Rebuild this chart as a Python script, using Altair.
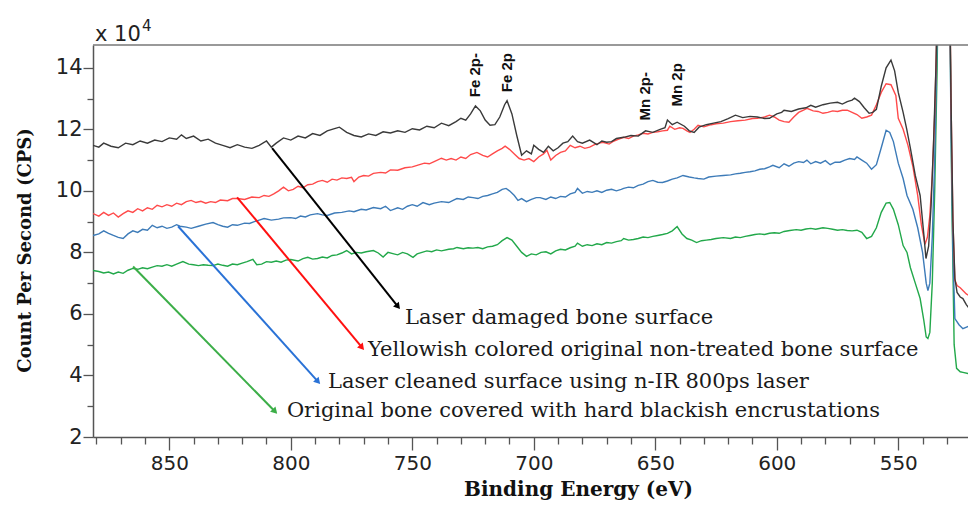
import altair as alt
import pandas as pd

# ---- spectra: (binding energy eV, counts per second / 1e4) ----
BLACK = [(881.4, 11.48), (879, 11.42), (877, 11.55), (874, 11.45), (871, 11.40), (868, 11.55), (865, 11.50),
         (862, 11.62), (859, 11.55), (856, 11.65), (853, 11.60), (850, 11.72), (847, 11.68), (845, 11.82),
         (843, 11.70), (840, 11.78), (837, 11.62), (834, 11.68), (831, 11.55), (828, 11.48), (825, 11.40),
         (822, 11.50), (819, 11.42), (816, 11.38), (813, 11.48), (810, 11.62), (808, 11.42), (806, 11.55),
         (803, 11.72), (800, 11.65), (797, 11.78), (794, 11.72), (791, 11.86), (788, 11.80), (785, 11.95),
         (782, 12.02), (780, 12.07), (777, 11.90), (774, 11.80), (771, 11.75), (768, 11.85), (765, 11.80),
         (762, 11.92), (759, 11.88), (756, 11.95), (753, 11.90), (750, 12.02), (747, 11.98), (744, 12.10),
         (741, 12.05), (738, 12.20), (735, 12.12), (732, 12.25), (730, 12.36), (728, 12.30), (726, 12.50),
         (724, 12.76), (722, 12.60), (720, 12.30), (718, 12.13), (716, 12.15), (714, 12.40), (712, 12.80),
         (711, 12.93), (709, 12.50), (707, 11.80), (705, 11.16), (703, 11.30), (701, 11.20), (700, 11.48),
         (698, 11.35), (696, 11.25), (694, 11.45), (692, 11.30), (690, 11.40), (688, 11.55), (686, 11.60),
         (684, 11.78), (682, 11.60), (680, 11.55), (677, 11.65), (674, 11.50), (672, 11.62), (670, 11.58),
         (668, 11.60), (666, 11.70), (663, 11.74), (660, 11.80), (657, 11.78), (654, 11.95), (651, 11.90),
         (648, 12.00), (646, 12.05), (645, 12.30), (643, 12.15), (641, 12.23), (638, 12.10), (636, 11.95),
         (634, 11.90), (632, 12.07), (629, 12.15), (626, 12.20), (623, 12.25), (620, 12.35), (617, 12.46),
         (614, 12.38), (611, 12.42), (608, 12.40), (605, 12.35), (603, 12.36), (600, 12.50), (598, 12.55),
         (597, 12.62), (594, 12.58), (591, 12.66), (588, 12.70), (586, 12.78), (584, 12.72), (581, 12.80),
         (578, 12.85), (575, 12.88), (573, 12.82), (571, 12.90), (569, 12.95), (568, 13.01), (566, 12.90),
         (564, 12.70), (562, 12.52), (560.5, 12.55), (559, 12.65), (557, 13.40), (555, 14.00), (553, 14.25),
         (551.5, 13.90), (550, 13.20), (548, 12.55), (546.5, 12.00), (545, 11.38), (543, 10.50), (541, 9.85),
         (539.5, 8.60), (538.6, 7.80), (537.5, 8.20), (536.5, 9.50), (535.5, 11.5), (534.5, 14.0), (533.5, 18.0),
         (531, 30.0), (529, 18.0), (528.3, 13.0), (527.5, 9.0), (526.7, 7.15), (525.8, 6.70), (524.5, 6.55),
         (523.4, 6.50), (522, 6.30), (521, 6.20), (518, 6.17)]

RED = [(881.4, 9.26), (879, 9.18), (877, 9.30), (875, 9.20), (873, 9.28), (871, 9.15), (869, 9.26), (867, 9.35),
       (865, 9.30), (863, 9.42), (861, 9.35), (859, 9.45), (857, 9.40), (855, 9.53), (853, 9.48), (851, 9.55),
       (849, 9.50), (847, 9.60), (845, 9.55), (843, 9.65), (841, 9.69), (839, 9.62), (837, 9.66), (835, 9.60),
       (833, 9.65), (831, 9.62), (829, 9.70), (826, 9.68), (824, 9.75), (822, 9.75), (819, 9.72), (816, 9.80),
       (813, 9.78), (811, 9.85), (809, 9.82), (807, 9.90), (805, 10.00), (803, 10.12), (801, 10.00), (799, 10.05),
       (797, 10.15), (795, 10.10), (793, 10.20), (791, 10.22), (789, 10.30), (787, 10.34), (785, 10.28),
       (783, 10.38), (781, 10.35), (779, 10.42), (777, 10.40), (775, 10.44), (774, 10.30), (772, 10.45),
       (770, 10.50), (768, 10.48), (766, 10.57), (763, 10.60), (761, 10.58), (759, 10.68), (756, 10.67),
       (753, 10.75), (750, 10.78), (747, 10.85), (745, 10.90), (743, 10.88), (741, 10.95), (738, 11.06),
       (736, 11.00), (734, 11.05), (732, 11.00), (730, 11.10), (728, 11.05), (726, 11.18), (723.4, 11.25),
       (721, 11.15), (719, 11.10), (717, 11.20), (715, 11.30), (713, 11.38), (711.8, 11.45), (710, 11.35),
       (708, 11.20), (706, 11.05), (704, 11.00), (702, 11.05), (700, 10.95), (698, 11.10), (696, 11.20),
       (694.6, 11.32), (693, 11.00), (691, 11.15), (689, 11.25), (687, 11.30), (685, 11.48), (683, 11.40),
       (681, 11.45), (679, 11.38), (677, 11.42), (675, 11.50), (673, 11.55), (671.5, 11.58), (669, 11.52),
       (667, 11.62), (665, 11.68), (663, 11.74), (661, 11.70), (659, 11.78), (657, 11.82), (655, 11.87),
       (653, 11.85), (651, 11.90), (649, 11.92), (647, 11.95), (645, 11.97), (644, 12.10), (642, 12.00),
       (640, 12.05), (638.6, 12.03), (637, 11.95), (635.7, 11.90), (634, 12.00), (632.4, 12.13), (630, 12.08),
       (627, 12.15), (625, 12.18), (622, 12.20), (619, 12.25), (616, 12.28), (613, 12.30), (610, 12.35),
       (608, 12.36), (605, 12.40), (603, 12.46), (601, 12.40), (599, 12.30), (597, 12.25), (595, 12.23),
       (593, 12.40), (591, 12.55), (589, 12.62), (587.6, 12.68), (585, 12.60), (583, 12.58), (581, 12.52),
       (579, 12.55), (577, 12.60), (575, 12.58), (573, 12.62), (571, 12.62), (569, 12.55), (567, 12.48),
       (565, 12.36), (563, 12.40), (561, 12.46), (559, 12.80), (557, 13.20), (555, 13.48), (553, 13.45),
       (551, 13.10), (550, 12.36), (548, 12.00), (546, 11.48), (544, 10.80), (542, 9.85), (540.5, 8.90),
       (539, 8.26), (538, 8.50), (537, 9.20), (536, 10.5), (535, 12.5), (534, 15.5), (533, 20.0), (531, 30.0),
       (529, 18.0), (528.3, 13.0), (527.5, 9.0), (526.7, 7.10), (525.8, 6.92), (524.5, 6.85), (523.4, 6.76),
       (522, 6.65), (520, 6.55), (518, 6.53)]

BLUE = [(881.4, 8.55), (879, 8.60), (877, 8.70), (875, 8.62), (873, 8.55), (871, 8.49), (869, 8.45), (867, 8.60),
        (865, 8.70), (863, 8.65), (861, 8.75), (859, 8.72), (857, 8.88), (855, 8.80), (853, 8.85), (851, 8.78),
        (849, 8.82), (847, 8.90), (845.6, 8.85), (843, 8.82), (841, 8.78), (838, 8.85), (835, 8.92), (832, 8.97),
        (830, 8.90), (828, 8.85), (826, 8.82), (824, 8.90), (822, 8.88), (819, 8.95), (817, 8.94), (815, 9.00),
        (813, 9.05), (811, 9.10), (808, 9.05), (805, 9.08), (803, 9.12), (800, 9.13), (798, 9.10), (796, 9.18),
        (794, 9.15), (792, 9.22), (789, 9.26), (787, 9.22), (785, 9.20), (782, 9.28), (779, 9.30), (776, 9.35),
        (774, 9.32), (771, 9.40), (769, 9.38), (766, 9.46), (763, 9.42), (761, 9.50), (759, 9.36), (756, 9.45),
        (754, 9.40), (752, 9.50), (750, 9.55), (748, 9.50), (745.6, 9.62), (743, 9.55), (741, 9.60), (738, 9.65),
        (735, 9.62), (733, 9.70), (731.6, 9.75), (729, 9.72), (727, 9.80), (725, 9.78), (723, 9.75), (721, 9.82),
        (719, 9.85), (717, 9.90), (715, 9.95), (713, 10.05), (711.4, 10.08), (710, 10.00), (708, 9.85),
        (706.5, 9.69), (705, 9.75), (703, 9.65), (701, 9.72), (699, 9.78), (697.4, 9.78), (695, 9.72), (693, 9.80),
        (691, 9.75), (689, 9.82), (687, 9.80), (685, 9.90), (683, 9.95), (682, 10.08), (680, 9.92), (678, 9.98),
        (676, 9.95), (674, 10.00), (672, 9.95), (670, 10.02), (668, 10.05), (666, 10.00), (664, 10.05),
        (663, 10.08), (661, 10.12), (659, 10.10), (657, 10.18), (655, 10.22), (653, 10.30), (651, 10.34),
        (649, 10.28), (647, 10.27), (645, 10.32), (643, 10.38), (641, 10.42), (638.6, 10.50), (636, 10.45),
        (634, 10.42), (632.4, 10.40), (630, 10.38), (628, 10.45), (625, 10.48), (622, 10.50), (619, 10.52),
        (617, 10.55), (615, 10.57), (613, 10.60), (611, 10.62), (609, 10.65), (607, 10.70), (605, 10.72),
        (603, 10.78), (601.6, 10.83), (599, 10.75), (597, 10.88), (595, 10.80), (593, 10.90), (591, 10.95),
        (589, 10.92), (587.6, 11.00), (586, 10.88), (584, 10.95), (582, 10.90), (580, 10.98), (578, 10.85),
        (576, 10.93), (574, 10.93), (572, 11.00), (570, 11.05), (568, 11.02), (567, 11.10), (565, 11.00),
        (563, 10.90), (561, 10.70), (559, 10.85), (557, 11.40), (555, 11.97), (553.5, 11.90), (552, 11.60),
        (550, 10.90), (548, 10.40), (546.4, 9.85), (544, 9.40), (542, 8.80), (540, 8.00), (538.5, 7.00),
        (537.8, 6.76), (537, 7.00), (536, 8.50), (535, 11.0), (534, 15.0), (533, 20.0), (531, 30.0), (529, 18.0),
        (528.3, 12.0), (527.5, 8.0), (526.7, 5.85), (525, 5.65), (523.4, 5.52), (521, 5.60), (518, 5.62)]

GREEN = [(881.4, 7.41), (879, 7.38), (877, 7.33), (875, 7.36), (873, 7.30), (871, 7.36), (869, 7.32), (867, 7.42),
         (865, 7.48), (863, 7.45), (861, 7.50), (859, 7.47), (857, 7.52), (855, 7.57), (853, 7.55), (851, 7.60),
         (849, 7.55), (847, 7.62), (844.4, 7.70), (842, 7.62), (840, 7.60), (838, 7.57), (836, 7.60), (834, 7.58),
         (832, 7.57), (830, 7.62), (828, 7.58), (826, 7.55), (824, 7.62), (822, 7.60), (820, 7.65), (818, 7.70),
         (815.6, 7.77), (814, 7.60), (812, 7.62), (810, 7.70), (808, 7.68), (806, 7.72), (804, 7.68), (802, 7.75),
         (800, 7.77), (797, 7.72), (795, 7.80), (793, 7.84), (791, 7.78), (789, 7.80), (787, 7.85), (785, 7.82),
         (783, 7.90), (781, 7.92), (779, 7.98), (777, 8.06), (775, 7.95), (773, 8.00), (771, 7.98), (769, 8.02),
         (766, 8.06), (764, 7.98), (762, 7.85), (760, 8.00), (758, 7.96), (756, 7.92), (754, 8.00), (752, 7.95),
         (749.7, 7.84), (748, 7.95), (746, 8.00), (744, 8.05), (742, 8.02), (740, 8.08), (738, 8.05), (735, 8.10),
         (733, 8.12), (731.6, 8.16), (729, 8.12), (727, 8.15), (725, 8.14), (723, 8.16), (721, 8.12), (719, 8.18),
         (717, 8.20), (715, 8.25), (713, 8.38), (711, 8.48), (709, 8.40), (707, 8.20), (705, 8.00), (703, 7.87),
         (701, 7.95), (699, 7.92), (697, 8.00), (695, 8.02), (693, 7.95), (691, 8.05), (689, 8.10), (687, 8.08),
         (685, 8.15), (683, 8.20), (682, 8.30), (680, 8.20), (678, 8.25), (676, 8.22), (674, 8.28), (672, 8.25),
         (670, 8.32), (668, 8.30), (666, 8.35), (664, 8.38), (663, 8.45), (661, 8.40), (659, 8.42), (657, 8.45),
         (655, 8.50), (653, 8.48), (651, 8.52), (649, 8.55), (647, 8.58), (645, 8.62), (643, 8.70), (641, 8.84),
         (639, 8.60), (637, 8.45), (635, 8.40), (633, 8.32), (631, 8.38), (629, 8.40), (627, 8.42), (625, 8.45),
         (622, 8.48), (619, 8.45), (617, 8.50), (615, 8.48), (613, 8.52), (611, 8.55), (609, 8.58), (607, 8.60),
         (605, 8.58), (603, 8.62), (601, 8.64), (599, 8.62), (597, 8.68), (594.6, 8.71), (592, 8.74), (590, 8.72),
         (588, 8.76), (586, 8.78), (584, 8.75), (581, 8.80), (579, 8.78), (577, 8.75), (575, 8.72), (573, 8.74),
         (571, 8.71), (569, 8.70), (567, 8.72), (565, 8.65), (563, 8.45), (561, 8.52), (559, 8.80), (557, 9.30),
         (555, 9.60), (553.5, 9.62), (552, 9.40), (550, 8.90), (548, 8.22), (546.4, 8.00), (545, 7.50),
         (543, 7.00), (541, 6.50), (539.5, 5.80), (538.5, 5.25), (537.8, 5.20), (537, 5.40), (536, 7.00),
         (535, 10.0), (534, 14.0), (533, 20.0), (531, 30.0), (529, 18.0), (528, 10.0), (527, 5.0), (526, 4.23),
         (524.5, 4.12), (523.4, 4.10), (521, 4.06), (518, 4.06)]

SERIES_NAMES = ["Original bone covered with hard blackish encrustations",
                "Laser cleaned surface using n-IR 800ps laser",
                "Yellowish colored original non-treated bone surface",
                "Laser damaged bone surface"]
SERIES_DATA = [GREEN, BLUE, RED, BLACK]
LINE_COLORS = ["#22a84a", "#3d7bb8", "#ff4a4a", "#3a3a3a"]

# ---- annotation arrows (start on curve -> tip near label), data units ----
ARROW_X1 = [864.9, 846.4, 822.1, 807.7]
ARROW_Y1 = [7.54, 8.85, 9.79, 11.39]
ARROW_X2 = [806.5, 788.8, 770.7, 755.9]
ARROW_Y2 = [2.83, 3.80, 4.91, 6.24]
ARROW_ANGLE = [136, 138, 140, 141]
ARROW_COLORS = ["#3cae48", "#2a72d6", "#ff1010", "#000000"]
LABEL_X = [801.6, 784.7, 768.2, 753.0]
LABEL_Y = [2.83, 3.80, 4.84, 5.88]

# ---- peak labels ----
PEAK_TEXT = ["Fe 2p-", "Fe 2p", "Mn 2p-", "Mn 2p"]
PEAK_X = [724.2, 711.1, 654.2, 641.1]
PEAK_Y = [14.48, 14.48, 13.86, 14.15]

X_DOMAIN = [521.3, 881.4]
Y_DOMAIN = [2.0, 14.74]
X_TICKS = list(range(530, 881, 10))
Y_TICKS = list(range(2, 15))

xs = alt.Scale(domain=X_DOMAIN, reverse=True, nice=False, zero=False)
ys = alt.Scale(domain=Y_DOMAIN, nice=False, zero=False)

x_axis = alt.Axis(
    values=X_TICKS,
    labelExpr="datum.value % 50 === 0 ? datum.label : ''",
    tickSize={"condition": {"test": "datum.value % 50 !== 0", "value": 7}, "value": 13},
    title="Binding Energy (eV)", titleFont="DejaVu Serif", titleFontWeight="bold", titleFontSize=20,
    titleColor="#111", titleX=485, titleY=52, titleAlign="center", titleBaseline="middle",
    labelFont="DejaVu Sans", labelFontSize=20, labelColor="#222", labelPadding=3,
    labelFlush=False, labelOverlap=False, grid=False,
    domainColor="#555", domainWidth=1.5, tickColor="#555", tickWidth=1.3,
)
y_axis = alt.Axis(
    values=Y_TICKS,
    labelExpr="datum.value % 2 === 0 ? datum.label : ''",
    tickSize={"condition": {"test": "datum.value % 2 !== 0", "value": 6}, "value": 10},
    title="Count Per Second (CPS)", titleFont="DejaVu Serif", titleFontWeight="bold", titleFontSize=18,
    titleColor="#111", titleX=-68, titleY=205, titleAngle=270, titleAlign="center", titleBaseline="middle",
    labelFont="DejaVu Sans", labelFontSize=21, labelColor="#222", labelPadding=1,
    labelFlush=False, labelOverlap=False, grid=False,
    domainColor="#555", domainWidth=1.5, tickColor="#555", tickWidth=1.3,
)


def X(field):
    return alt.X(field, scale=xs, axis=x_axis)


def Y(field):
    return alt.Y(field, scale=ys, axis=y_axis)


layers = []
for name, pts, col in zip(SERIES_NAMES, SERIES_DATA, LINE_COLORS):
    d = pd.DataFrame(pts, columns=["ev", "cps"])
    layers.append(alt.Chart(d).mark_line(color=col, strokeWidth=1.4, clip=True).encode(
        x=X("ev:Q"), y=Y("cps:Q"), order="ev:Q"))

arrows = pd.DataFrame({"x1": ARROW_X1, "y1": ARROW_Y1, "x2": ARROW_X2, "y2": ARROW_Y2,
                       "ang": ARROW_ANGLE, "col": ARROW_COLORS, "lx": LABEL_X, "ly": LABEL_Y,
                       "txt": SERIES_NAMES})

arrow_lines = alt.Chart(arrows).mark_rule(strokeWidth=2).encode(
    x=X("x1:Q"), y=Y("y1:Q"), x2="x2:Q", y2="y2:Q",
    color=alt.Color("col:N", scale=None))
arrow_heads = alt.Chart(arrows).mark_point(shape="triangle-up", filled=True, size=55, opacity=1).encode(
    x=X("x2:Q"), y=Y("y2:Q"),
    angle=alt.Angle("ang:Q", scale=None), color=alt.Color("col:N", scale=None))
labels = alt.Chart(arrows).mark_text(align="left", baseline="middle", font="DejaVu Serif",
                                     fontSize=21, color="#1a1a1a").encode(
    x=X("lx:Q"), y=Y("ly:Q"), text="txt:N")

peaks = pd.DataFrame({"x": PEAK_X, "y": PEAK_Y, "t": PEAK_TEXT})
peak_labels = alt.Chart(peaks).mark_text(angle=270, align="right", baseline="middle",
                                         font="Liberation Sans", fontWeight="bold", fontSize=15,
                                         color="#111").encode(
    x=X("x:Q"), y=Y("y:Q"), text="t:N")

# scale multiplier label "x 10^4"
mult = pd.DataFrame({"x": [880.6], "y": [15.06], "t": ["x 10"]})
mult_exp = pd.DataFrame({"x": [861.2], "y": [15.36], "t": ["4"]})
mult_text = alt.Chart(mult).mark_text(align="left", baseline="middle", font="DejaVu Sans",
                                      fontSize=21, color="#222").encode(
    x=X("x:Q"), y=Y("y:Q"), text="t:N")
mult_exp_text = alt.Chart(mult_exp).mark_text(align="left", baseline="middle", font="DejaVu Sans",
                                              fontSize=15, color="#222").encode(
    x=X("x:Q"), y=Y("y:Q"), text="t:N")

# frame top border
top_border = alt.Chart(pd.DataFrame({"a": [0]})).mark_rule(color="#777", strokeWidth=1.5).encode(
    x=alt.value(0), x2=alt.value(875), y=alt.value(0))

chart = alt.layer(*layers, arrow_lines, arrow_heads, labels, peak_labels, mult_text, mult_exp_text,
                  top_border).properties(
    width=875, height=392,
    autosize=alt.AutoSizeParams(type="none"),
    padding={"left": 85, "top": 37, "right": 0, "bottom": 64},
).configure_view(stroke=None)

chart.save("out.html", embed_options={"renderer": "svg", "actions": False})
